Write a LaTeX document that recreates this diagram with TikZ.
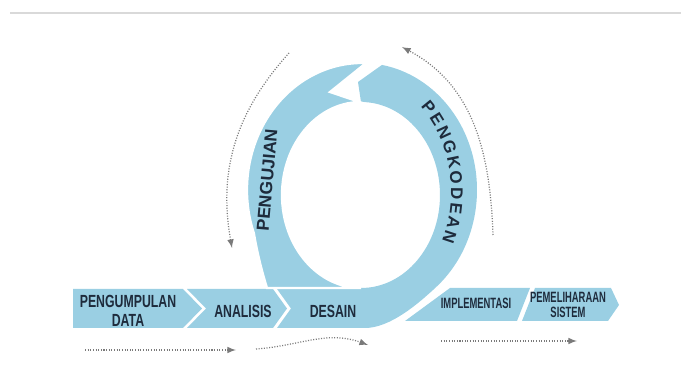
\documentclass[tikz,border=0pt]{standalone}
\usepackage{fontspec}
\setmainfont{Liberation Sans}
\newfontfamily\stagefont{Liberation Sans}[FakeStretch=0.7]
\newfontfamily\narrowstagefont{Liberation Sans}[FakeStretch=0.63]
\usetikzlibrary{arrows,calc,decorations.text}
\definecolor{stageblue}{HTML}{9ACFE3}
\definecolor{stagetext}{HTML}{1E2B3C}
\definecolor{flowgray}{HTML}{7A7A7A}
\newcommand{\looplabelfont}{\fontsize{10}{12}\selectfont\bfseries}
\newcommand{\arclabelfont}{\fontsize{9.6}{12}\selectfont\bfseries}

\begin{document}
\begin{tikzpicture}[x=0.02cm,y=0.02cm,
  stage/.style={fill=stageblue},
  stagecut/.style={fill=stageblue,draw=white,line width=1.3pt},
  stagelabel/.style={text=stagetext,align=center,inner sep=0pt,font=\stagefont\bfseries\fontsize{10}{10.5}\selectfont},
  narrowlabel/.style={text=stagetext,align=center,inner sep=0pt,font=\narrowstagefont\bfseries\fontsize{8.5}{9}\selectfont},
  looplabel/.style={text=stagetext,inner sep=0pt,font=\looplabelfont},
  flow/.style={-latex,flowgray,line width=0.7pt,dash pattern=on 0.6pt off 0.9pt}]
\useasboundingbox (0,0) rectangle (681,372);
% \draw[help lines,step=20] (0,0) grid (681,372);
\draw[gray!30,line width=0.6pt] (10,359) -- (681,359);
%
\coordinate (outer) at (362,182);
\coordinate (inner) at (361,177);
\coordinate (ringtext) at (362,180);
%
% band
\fill[stage] (73,83) -- (183,83) -- (202,63.5) -- (183,44) -- (73,44) -- cycle;
\fill[stage] (187,83) -- (273,83) -- (287,63.5) -- (273,44) -- (187,44) -- (206,63.5) -- cycle;
\fill[stage] (277,83) -- (291,63.5) -- (277,44) -- (365,44)
  .. controls (390,44) and (418,68) .. ($(outer)+(-50:115 and 127)$)
  arc[start angle=-50,end angle=80,x radius=115,y radius=127]
  -- (358,290) -- ($(inner)+(90:79 and 93)$)
  arc[start angle=90,end angle=-90,x radius=79,y radius=93] -- cycle;
\filldraw[stagecut] ($(outer)+(88:115 and 127)$)
  arc[start angle=88,end angle=200,x radius=115,y radius=127]
  .. controls (257,120) and (262,100) .. (267,84) -- ($(inner)+(270:79 and 93)$)
  arc[start angle=270,end angle=91,x radius=79,y radius=93]
  -- (330,280) -- cycle;
\fill[stage] (450,84) -- (530,84) -- (517,51) -- (405,51) -- cycle;
\fill[stage] (535,84) -- (611,84) -- (619,67) -- (608,51) -- (522,51) -- cycle;
%
\node[stagelabel] (pengumpulan) at (128,61) {PENGUMPULAN\\DATA};
\node[stagelabel] (analisis) at (243,61) {ANALISIS};
\node[stagelabel] (desain) at (333,61) {DESAIN};
\node[narrowlabel] (implementasi) at (476,69) {IMPLEMENTASI};
\node[narrowlabel] (pemeliharaan) at (568,67) {PEMELIHARAAN\\SISTEM};
\node[looplabel,rotate=85] (pengujian) at (267,192) {PENGUJIAN};
\path[decorate,decoration={text along path,text align=fit to path,text color=stagetext,
  text={|\arclabelfont|PENGKODEAN}}]
  ($(ringtext)+(49:89 and 113)$) arc[start angle=49,end angle=-26,x radius=89,y radius=113];
%
\coordinate (f1s) at (85,22);
\coordinate (f1e) at (236,22);
\coordinate (f2s) at (256,23);
\coordinate (f2e) at (368,27);
\coordinate (f3s) at (441,31);
\coordinate (f3e) at (577,31);
\coordinate (t1s) at (289,319);
\coordinate (t1e) at (232,124);
\coordinate (t2s) at (493,137);
\coordinate (t2e) at (402,325);
\draw[flow] (f1s) -- (f1e);
\draw[flow] (f2s) to[out=4,in=160] (f2e);
\draw[flow] (f3s) -- (f3e);
\draw[flow] (t1s) to[out=228,in=100] (t1e);
\draw[flow] (t2s) to[out=92,in=-28] (t2e);
\end{tikzpicture}
\end{document}
